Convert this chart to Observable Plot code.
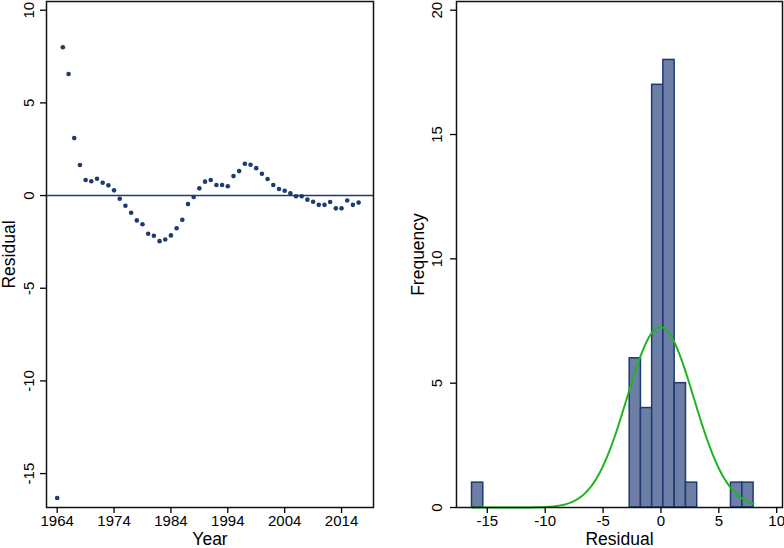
<!DOCTYPE html>
<html><head><meta charset="utf-8">
<script src="https://cdn.jsdelivr.net/npm/d3@7"></script>
<script src="https://cdn.jsdelivr.net/npm/@observablehq/plot@0.6"></script>
<style>
body{margin:0;background:#fff;}
#wrap{display:flex;width:784px;height:548px;overflow:hidden;}
#wrap svg{display:block;font-family:"Liberation Sans",Arial,Helvetica,sans-serif;color:#000;}
</style></head><body><div id="wrap"></div>
<script>
// ---- data ----
const years = [1964,1965,1966,1967,1968,1969,1970,1971,1972,1973,1974,1975,1976,1977,1978,1979,
  1980,1981,1982,1983,1984,1985,1986,1987,1988,1989,1990,1991,1992,1993,1994,1995,1996,1997,1998,1999,
  2000,2001,2002,2003,2004,2005,2006,2007,2008,2009,2010,2011,2012,2013,2014,2015,2016,2017];
const residuals = [-16.32,8.0,6.56,3.1,1.65,0.84,0.77,0.91,0.69,0.55,0.28,-0.17,-0.55,-0.93,-1.34,-1.55,
  -2.06,-2.17,-2.46,-2.37,-2.15,-1.76,-1.31,-0.46,-0.08,0.39,0.75,0.84,0.57,0.57,0.50,1.05,1.32,1.72,1.66,1.48,
  1.18,0.89,0.57,0.35,0.26,0.12,-0.04,-0.04,-0.22,-0.33,-0.50,-0.50,-0.35,-0.69,-0.69,-0.27,-0.50,-0.38];
const yearTicks = [1964,1974,1984,1994,2004,2014];
const residTicks = [-15,-10,-5,0,5,10];
const binLow = [-16.32,-2.70,-1.73,-0.76,0.21,1.19,2.16,6.05,7.03];
const binCount = [1,6,4,17,18,5,1,1,1];
const binWidth = 0.973;
const freqTicks = [0,5,10,15,20];

// ---- styles ----
const navy = "#1c3b70";
const barFill = "#6d7fa6";
const green = "#1fb51f";
const tickFS = 15, labFS = 17.5;

const points = years.map((y,i)=>({year:y, resid:residuals[i]}));
const bins = binLow.map((lo,i)=>({lo, hi: lo+binWidth, n: binCount[i]}));

// fitted normal density scaled to frequency
const N = residuals.length;
const mean = d3.mean(residuals), sd = d3.deviation(residuals);
const rMin = d3.min(residuals), rMax = d3.max(residuals);
const curve = d3.range(201).map(i => {
  const x = rMin + i*(rMax-rMin)/200;
  return {x, y: N*binWidth*Math.exp(-0.5*((x-mean)/sd)**2)/(sd*Math.sqrt(2*Math.PI))};
});

const left = Plot.plot({
  width: 392, height: 548,
  marginLeft: 46, marginRight: 19, marginTop: 1, marginBottom: 41,
  x: {domain: [1962.12, 2019.62]},
  y: {domain: [-16.83, 10.47]},
  marks: [
    Plot.ruleY([0], {stroke: navy, strokeWidth: 1.5}),
    Plot.dot(points, {x: "year", y: "resid", r: 2.3, fill: navy, stroke: "none"}),
    Plot.frame({stroke: "#111", strokeWidth: 1.5}),
    Plot.axisX({ticks: yearTicks, tickFormat: d => String(d), tickSize: 6, tickPadding: 1.5, fontSize: tickFS, strokeWidth: 1.3, label: null}),
    Plot.axisY({ticks: residTicks, tickFormat: d => String(d), tickSize: 6, tickPadding: 7, tickRotate: -90, fontSize: tickFS, strokeWidth: 1.3, label: null}),
    Plot.text(["Year"], {text: d => d, frameAnchor: "bottom", dy: 37.2, lineAnchor: "bottom", fontSize: labFS}),
    Plot.text(["Residual"], {text: d => d, frameAnchor: "left", dx: -31.5, rotate: -90, textAnchor: "middle", lineAnchor: "bottom", fontSize: labFS})
  ]
});

const right = Plot.plot({
  width: 392, height: 548,
  marginLeft: 64, marginRight: 2, marginTop: 1, marginBottom: 41,
  x: {domain: [-17.66, 10.5]},
  y: {domain: [0, 20.35]},
  marks: [
    Plot.rectY(bins, {x1: "lo", x2: "hi", y: "n", fill: barFill, stroke: navy, strokeWidth: 1.5}),
    Plot.line(curve, {x: "x", y: "y", stroke: green, strokeWidth: 2}),
    Plot.frame({stroke: "#111", strokeWidth: 1.5}),
    Plot.axisX({ticks: residTicks, tickFormat: d => String(d), tickSize: 6, tickPadding: 1.5, fontSize: tickFS, strokeWidth: 1.3, label: null}),
    Plot.axisY({ticks: freqTicks, tickFormat: d => String(d), tickSize: 6, tickPadding: 9, tickRotate: -90, fontSize: tickFS, strokeWidth: 1.3, label: null}),
    Plot.text(["Residual"], {text: d => d, frameAnchor: "bottom", dy: 37.2, lineAnchor: "bottom", fontSize: labFS}),
    Plot.text(["Frequency"], {text: d => d, frameAnchor: "left", dx: -33, rotate: -90, textAnchor: "middle", lineAnchor: "bottom", fontSize: labFS})
  ]
});

document.getElementById("wrap").append(left, right);
</script>
</body></html>
